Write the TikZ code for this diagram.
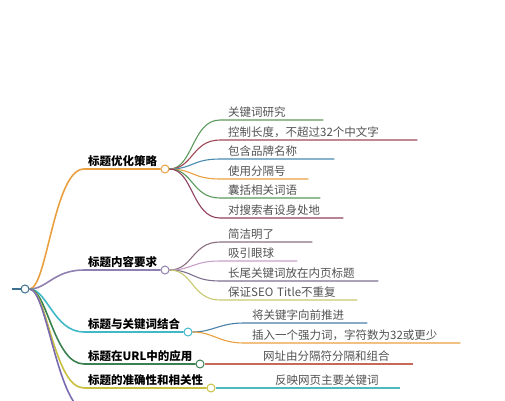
\documentclass[tikz,border=0pt]{standalone}
\usepackage{fontspec}
\usepackage{xcolor}
\usepackage{tikz}
\newfontfamily\cjk{Noto Sans CJK SC}

\definecolor{stem}{HTML}{3A6F8F}
\definecolor{b-opt}{HTML}{E8A040}
\definecolor{b-req}{HTML}{9080B0}
\definecolor{b-kw}{HTML}{40B8C8}
\definecolor{b-url}{HTML}{3A8050}
\definecolor{b-acc}{HTML}{C8C040}
\definecolor{b-last}{HTML}{7A6AB0}
\definecolor{c-green}{HTML}{5A9A5A}
\definecolor{c-red}{HTML}{A04858}
\definecolor{c-blue}{HTML}{4A8AB0}
\definecolor{c-orange}{HTML}{E8A040}
\definecolor{c-maroon}{HTML}{904060}
\definecolor{c-mauve}{HTML}{8A7080}
\definecolor{c-pink}{HTML}{C8A0C8}
\definecolor{c-grape}{HTML}{807090}
\definecolor{c-lime}{HTML}{C8C870}
\definecolor{c-steel}{HTML}{4A80A8}
\definecolor{c-salmon}{HTML}{C86858}
\definecolor{c-teal}{HTML}{50B8C0}

\tikzset{
    hub/.style={circle, draw=#1, fill=white, line width=1pt, minimum size=8pt, inner sep=0pt},
    head/.style={anchor=south west, inner xsep=4pt, inner ysep=2pt, font=\cjk\bfseries\fontsize{11.5}{13}\selectfont},
    leaf/.style={anchor=south west, inner xsep=8pt, inner ysep=2.5pt, align=left, text=black!68,
        font=\cjk\fontsize{11.5}{13}\selectfont},
    branch/.style={line width=1.6pt},
    twig/.style={line width=1.1pt}
}

\begin{document}
\begin{tikzpicture}[x=1pt, y=-1pt]
        \useasboundingbox (0,0) rectangle (505,400);
        % root and main branches
        \coordinate (root-in) at (12,289);
        \coordinate (last-end) at (88,412);
        \node[hub=stem] (root) at (25,289) {};
        \node[hub=b-opt] (opt) at (165,169) {};
        \node[hub=b-req] (req) at (165,270) {};
        \node[hub=b-kw]  (kw)  at (188,332) {};
        \node[hub=b-url] (url) at (200,364) {};
        \node[hub=b-acc] (acc) at (211,388) {};
        \node[head] (opt-text) at (84,169) {标题优化策略};
        \node[head] (req-text) at (84,270) {标题内容要求};
        \node[head] (kw-text)  at (84,332) {标题与关键词结合};
        \node[head] (url-text) at (84,364) {标题在URL中的应用};
        \node[head] (acc-text) at (84,388) {标题的准确性和相关性};
        \draw[line width=2.5pt, stem] (root-in) -- (root);
        \draw[branch, b-opt] (root) .. controls +(22,0) and +(-30,0) .. (opt-text.south west) -- (opt);
        \draw[branch, b-req] (root) .. controls +(22,0) and +(-30,0) .. (req-text.south west) -- (req);
        \draw[branch, b-kw]  (root) .. controls +(22,0) and +(-30,0) .. (kw-text.south west) -- (kw);
        \draw[branch, b-url] (root) .. controls +(22,0) and +(-30,0) .. (url-text.south west) -- (url);
        \draw[branch, b-acc] (root) .. controls +(22,0) and +(-30,0) .. (acc-text.south west) -- (acc);
        \draw[branch, b-last] (root) .. controls +(22,0) and +(-30,0) .. (last-end);
        % leaves of the first branch
        \node[leaf, text width=87pt]  (opt-kw)    at (220,120) {关键词研究};
        \node[leaf, text width=181pt] (opt-len)   at (220,140) {控制长度，不超过32个中文字};
        \node[leaf, text width=98pt]  (opt-brand) at (220,159) {包含品牌名称};
        \node[leaf, text width=72pt]  (opt-sep)   at (220,179) {使用分隔号};
        \node[leaf, text width=84pt]  (opt-rel)   at (220,198) {囊括相关词语};
        \node[leaf, text width=107pt] (opt-user)  at (220,218) {对搜索者设身处地};
        \draw[twig, c-green]  (opt) .. controls +(28,0) and +(-28,0) .. (opt-kw.south west) -- (opt-kw.south east);
        \draw[twig, c-red]    (opt) .. controls +(28,0) and +(-28,0) .. (opt-len.south west) -- (opt-len.south east);
        \draw[twig, c-blue]   (opt) .. controls +(28,0) and +(-28,0) .. (opt-brand.south west) -- (opt-brand.south east);
        \draw[twig, c-orange] (opt) .. controls +(28,0) and +(-28,0) .. (opt-sep.south west) -- (opt-sep.south east);
        \draw[twig, c-green]  (opt) .. controls +(28,0) and +(-28,0) .. (opt-rel.south west) -- (opt-rel.south east);
        \draw[twig, c-maroon] (opt) .. controls +(28,0) and +(-28,0) .. (opt-user.south west) -- (opt-user.south east);
        % leaves of the second branch
        \node[leaf, text width=76pt]  (req-short) at (220,242) {简洁明了};
        \node[leaf, text width=61pt]  (req-eye)   at (220,261) {吸引眼球};
        \node[leaf, text width=142pt] (req-long)  at (220,281) {长尾关键词放在内页标题};
        \node[leaf, text width=121pt] (req-uniq)  at (220,300) {保证SEO Title不重复};
        \draw[twig, c-mauve] (req) .. controls +(28,0) and +(-28,0) .. (req-short.south west) -- (req-short.south east);
        \draw[twig, c-pink]  (req) .. controls +(28,0) and +(-28,0) .. (req-eye.south west) -- (req-eye.south east);
        \draw[twig, c-grape] (req) .. controls +(28,0) and +(-28,0) .. (req-long.south west) -- (req-long.south east);
        \draw[twig, c-lime]  (req) .. controls +(28,0) and +(-28,0) .. (req-uniq.south west) -- (req-uniq.south east);
        % leaves of the other branches
        \node[leaf, text width=107pt] (kw-front) at (244,323) {将关键字向前推进};
        \node[leaf, text width=200pt] (kw-power) at (244,343) {插入一个强力词，字符数为32或更少};
        \node[leaf, text width=142pt] (url-sep)  at (255,364) {网址由分隔符分隔和组合};
        \node[leaf, text width=117pt] (acc-main) at (267,388) {反映网页主要关键词};
        \draw[twig, c-steel]  (kw) .. controls +(25,0) and +(-25,0) .. (kw-front.south west) -- (kw-front.south east);
        \draw[twig, c-orange] (kw) .. controls +(25,0) and +(-25,0) .. (kw-power.south west) -- (kw-power.south east);
        \draw[twig, c-salmon] (url) -- (url-sep.south west) -- (url-sep.south east);
        \draw[twig, c-teal]   (acc) -- (acc-main.south west) -- (acc-main.south east);
    \end{tikzpicture}
\end{document}
